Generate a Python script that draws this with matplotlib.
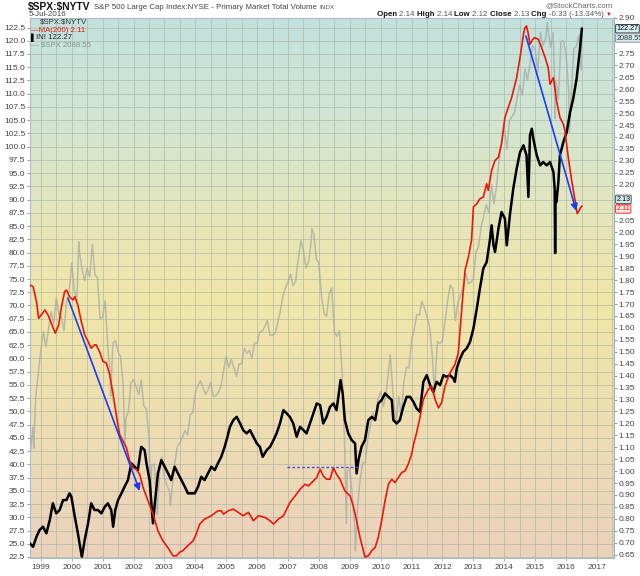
import numpy as np
import matplotlib
matplotlib.use("Agg")
import matplotlib.pyplot as plt
from matplotlib.colors import LinearSegmentedColormap

plt.rcParams['font.family'] = ['Liberation Sans', 'DejaVu Sans']

# ---------------- data ----------------
# MA(200) of $SPX:$NYTV  (right axis)
ma_x = [1998.64, 1998.75, 1998.86, 1998.93, 1999.02, 1999.13, 1999.23, 1999.34, 1999.47, 1999.58,
        1999.66, 1999.77, 1999.83, 1999.93, 2000.04, 2000.10, 2000.20, 2000.31, 2000.42, 2000.53,
        2000.63, 2000.74, 2000.79, 2000.90, 2001.01, 2001.12, 2001.23, 2001.34, 2001.44, 2001.55,
        2001.66, 2001.77, 2001.88, 2001.98, 2002.09, 2002.20, 2002.31, 2002.47, 2002.63, 2002.79,
        2002.95, 2003.11, 2003.28, 2003.39, 2003.49, 2003.60, 2003.76, 2003.93, 2004.03, 2004.14,
        2004.30, 2004.52, 2004.73, 2004.84, 2004.91, 2005.07, 2005.23, 2005.39, 2005.55, 2005.72,
        2005.88, 2006.04, 2006.26, 2006.42, 2006.53, 2006.69, 2006.85, 2006.96, 2007.06, 2007.23,
        2007.39, 2007.55, 2007.66, 2007.82, 2007.93, 2008.04, 2008.14, 2008.25, 2008.36, 2008.47,
        2008.57, 2008.68, 2008.84, 2009.01, 2009.11, 2009.22, 2009.33, 2009.44, 2009.49, 2009.60,
        2009.71, 2009.82, 2009.92, 2010.03, 2010.14, 2010.25, 2010.36, 2010.46, 2010.57, 2010.68,
        2010.79, 2010.89, 2011.00, 2011.06, 2011.16, 2011.27, 2011.38, 2011.54, 2011.65, 2011.76,
        2011.87, 2011.97, 2012.08, 2012.24, 2012.40, 2012.51, 2012.62, 2012.73, 2012.84, 2012.94,
        2013.00, 2013.11, 2013.21, 2013.32, 2013.43, 2013.48, 2013.59, 2013.70, 2013.81, 2013.91,
        2014.02, 2014.13, 2014.24, 2014.40, 2014.51, 2014.62, 2014.67, 2014.72, 2014.78, 2014.83,
        2014.92, 2014.99, 2015.10, 2015.21, 2015.32, 2015.42, 2015.48, 2015.59, 2015.69, 2015.80,
        2015.91, 2015.96, 2016.07, 2016.18, 2016.29, 2016.36, 2016.43, 2016.47, 2016.51]
ma_y = [1.780, 1.773, 1.710, 1.640, 1.655, 1.675, 1.655, 1.620, 1.578, 1.613,
        1.682, 1.752, 1.759, 1.731, 1.717, 1.731, 1.696, 1.627, 1.571, 1.543,
        1.515, 1.529, 1.529, 1.501, 1.460, 1.453, 1.404, 1.321, 1.237, 1.154,
        1.126, 1.098, 1.042, 1.014, 1.008, 0.987, 0.931, 0.875, 0.820, 0.750,
        0.708, 0.680, 0.645, 0.645, 0.660, 0.667, 0.688, 0.708, 0.736, 0.778,
        0.799, 0.813, 0.834, 0.834, 0.820, 0.834, 0.841, 0.827, 0.813, 0.827,
        0.792, 0.813, 0.806, 0.792, 0.778, 0.799, 0.813, 0.841, 0.868, 0.896,
        0.924, 0.945, 0.938, 0.959, 0.973, 1.008, 0.980, 0.966, 0.966, 1.014,
        0.987, 0.966, 0.917, 0.896, 0.855, 0.792, 0.722, 0.667, 0.640, 0.645,
        0.667, 0.680, 0.722, 0.792, 0.875, 0.945, 0.966, 0.952, 0.973, 0.994,
        1.001, 1.029, 1.070, 1.110, 1.160, 1.225, 1.300, 1.342, 1.355, 1.300,
        1.265, 1.286, 1.355, 1.411, 1.446, 1.494, 1.675, 1.842, 1.898, 1.968,
        2.107, 2.120, 2.141, 2.148, 2.204, 2.176, 2.260, 2.302, 2.315, 2.371,
        2.482, 2.524, 2.566, 2.649, 2.733, 2.830, 2.858, 2.865, 2.830, 2.788,
        2.809, 2.816, 2.809, 2.774, 2.733, 2.691, 2.621, 2.649, 2.552, 2.482,
        2.454, 2.427, 2.315, 2.218, 2.135, 2.079, 2.093, 2.104, 2.110]

# "IN!" series (left axis, black)
in_x = [1998.64, 1998.75, 1998.86, 1998.96, 1999.07, 1999.18, 1999.29, 1999.39, 1999.50, 1999.61,
        1999.72, 1999.83, 1999.93, 1999.99, 2000.10, 2000.20, 2000.29, 2000.33, 2000.42, 2000.53,
        2000.63, 2000.74, 2000.85, 2000.96, 2001.07, 2001.17, 2001.28, 2001.34, 2001.41, 2001.50,
        2001.61, 2001.71, 2001.82, 2001.93, 2002.04, 2002.14, 2002.25, 2002.36, 2002.42, 2002.52,
        2002.63, 2002.69, 2002.79, 2002.90, 2003.01, 2003.12, 2003.22, 2003.33, 2003.44, 2003.55,
        2003.66, 2003.76, 2003.87, 2003.98, 2004.09, 2004.19, 2004.30, 2004.41, 2004.52, 2004.63,
        2004.73, 2004.84, 2004.95, 2005.04, 2005.12, 2005.23, 2005.34, 2005.45, 2005.55, 2005.66,
        2005.77, 2005.88, 2005.99, 2006.09, 2006.18, 2006.31, 2006.42, 2006.53, 2006.63, 2006.74,
        2006.85, 2006.96, 2007.06, 2007.17, 2007.28, 2007.39, 2007.50, 2007.60, 2007.71, 2007.82,
        2007.93, 2008.04, 2008.14, 2008.25, 2008.36, 2008.47, 2008.57, 2008.63, 2008.70, 2008.77,
        2008.84, 2008.95, 2009.06, 2009.17, 2009.22, 2009.28, 2009.38, 2009.49, 2009.60, 2009.71,
        2009.82, 2009.92, 2010.03, 2010.14, 2010.25, 2010.36, 2010.41, 2010.52, 2010.62, 2010.73,
        2010.84, 2010.95, 2011.06, 2011.16, 2011.27, 2011.38, 2011.49, 2011.60, 2011.70, 2011.81,
        2011.92, 2012.03, 2012.13, 2012.24, 2012.35, 2012.40, 2012.46, 2012.57, 2012.67, 2012.78,
        2012.89, 2013.00, 2013.11, 2013.21, 2013.32, 2013.43, 2013.54, 2013.59, 2013.65, 2013.70,
        2013.81, 2013.91, 2014.02, 2014.08, 2014.18, 2014.29, 2014.40, 2014.51, 2014.62, 2014.72,
        2014.78, 2014.83, 2014.89, 2014.94, 2015.05, 2015.16, 2015.26, 2015.37, 2015.48, 2015.59,
        2015.63, 2015.645, 2015.66, 2015.69, 2015.75, 2015.80, 2015.91, 2016.02, 2016.13, 2016.23,
        2016.34, 2016.40, 2016.45, 2016.51]
in_y = [25.08, 24.44, 26.33, 27.59, 28.22, 26.97, 29.48, 32.63, 30.74, 31.37,
        33.25, 33.25, 34.52, 33.88, 30.10, 26.97, 23.82, 22.56, 25.71, 28.86,
        32.63, 31.37, 31.37, 30.74, 31.99, 32.63, 31.37, 28.22, 31.37, 33.25,
        34.52, 35.77, 37.03, 40.18, 39.54, 38.92, 43.31, 42.69, 40.18, 37.03,
        28.86, 32.63, 38.29, 40.80, 39.54, 38.29, 37.03, 39.54, 38.29, 37.03,
        35.77, 34.52, 34.52, 34.52, 35.77, 37.65, 37.03, 38.29, 39.54, 38.92,
        40.18, 41.42, 43.31, 45.20, 47.08, 48.35, 48.97, 47.72, 46.46, 45.84,
        46.46, 45.20, 43.95, 43.31, 41.42, 42.69, 43.31, 44.58, 45.84, 47.72,
        50.24, 49.61, 48.97, 47.72, 45.20, 47.08, 46.46, 45.84, 47.72, 49.61,
        51.50, 51.18, 47.72, 48.97, 50.86, 51.50, 50.24, 52.75, 55.90, 53.39,
        48.35, 45.84, 44.58, 43.95, 38.29, 40.80, 43.31, 44.58, 48.35, 48.97,
        48.35, 51.50, 52.12, 53.39, 52.75, 52.12, 48.35, 47.72, 48.35, 50.86,
        52.75, 52.75, 51.80, 50.56, 49.92, 55.58, 56.84, 54.95, 53.69, 55.58,
        54.95, 56.84, 56.52, 56.84, 56.22, 55.58, 58.10, 59.99, 61.24, 61.88,
        63.12, 65.65, 69.42, 73.20, 76.97, 78.22, 82.63, 85.14, 81.37, 80.10,
        84.52, 87.65, 86.41, 81.37, 87.03, 92.07, 95.84, 98.97, 100.24, 98.35,
        90.50, 102.12, 103.39, 101.50, 98.35, 96.46, 97.09, 96.46, 97.09, 95.20,
        92.00, 79.90, 91.50, 89.54, 93.31, 98.35, 100.86, 102.75, 106.52, 109.05,
        112.82, 115.95, 118.48, 122.27]

# $SPX month-end closes from Aug 1998 to Jun 2016 (grey overlay, own hidden scale)
spx_first_month = (1998, 8)
spx_close = [957.28, 1017.01, 1098.67, 1163.63, 1229.23,
             1279.64, 1238.33, 1286.37, 1335.18, 1301.84, 1372.71, 1328.72, 1320.41, 1282.71, 1362.93, 1388.91, 1469.25,
             1394.46, 1366.42, 1498.58, 1452.43, 1420.60, 1454.60, 1430.83, 1517.68, 1436.51, 1429.40, 1314.95, 1320.28,
             1366.01, 1239.94, 1160.33, 1249.46, 1255.82, 1224.42, 1211.23, 1133.58, 1040.94, 1059.78, 1139.45, 1148.08,
             1130.20, 1106.73, 1147.39, 1076.92, 1067.14, 989.82, 911.62, 916.07, 815.28, 885.76, 936.31, 879.82,
             855.70, 841.15, 848.18, 916.92, 963.59, 974.50, 990.31, 1008.01, 995.97, 1050.71, 1058.20, 1111.92,
             1131.13, 1144.94, 1126.21, 1107.30, 1120.68, 1140.84, 1101.72, 1104.24, 1114.58, 1130.20, 1173.82, 1211.92,
             1181.27, 1203.60, 1180.59, 1156.85, 1191.50, 1191.33, 1234.18, 1220.33, 1228.81, 1207.01, 1249.48, 1248.29,
             1280.08, 1280.66, 1294.83, 1310.61, 1270.09, 1270.20, 1276.66, 1303.82, 1335.85, 1377.94, 1400.63, 1418.30,
             1438.24, 1406.82, 1420.86, 1482.37, 1530.62, 1503.35, 1455.27, 1473.99, 1526.75, 1549.38, 1481.14, 1468.36,
             1378.55, 1330.63, 1322.70, 1385.59, 1400.38, 1280.00, 1267.38, 1282.83, 1166.36, 968.75, 896.24, 903.25,
             825.88, 735.09, 797.87, 872.81, 919.14, 919.32, 987.48, 1020.62, 1057.08, 1036.19, 1095.63, 1115.10,
             1073.87, 1104.49, 1169.43, 1186.69, 1089.41, 1030.71, 1101.60, 1049.33, 1141.20, 1183.26, 1180.55, 1257.64,
             1286.12, 1327.22, 1325.83, 1363.61, 1345.20, 1320.64, 1292.28, 1218.89, 1131.42, 1253.30, 1246.96, 1257.60,
             1312.41, 1365.68, 1408.47, 1397.91, 1310.33, 1362.16, 1379.32, 1406.58, 1440.67, 1412.16, 1416.18, 1426.19,
             1498.11, 1514.68, 1569.19, 1597.57, 1630.74, 1606.28, 1685.73, 1632.97, 1681.55, 1756.54, 1805.81, 1848.36,
             1782.59, 1859.45, 1872.34, 1883.95, 1923.57, 1960.23, 1930.67, 2003.37, 1972.29, 2018.05, 2067.56, 2058.90,
             1994.99, 2104.50, 2067.89, 2085.51, 2107.39, 2063.11, 2103.84, 1972.18, 1920.03, 2079.36, 2080.41, 2043.94,
             1940.24, 1932.23, 2059.74, 2065.30, 2096.95, 2098.86]
# notable intra-month closes
spx_extra_x = [1998.635, 1998.77, 2000.23, 2000.67, 2001.26, 2001.72, 2002.56, 2002.77, 2003.19,
               2007.77, 2008.89, 2009.18, 2010.31, 2010.50, 2011.75, 2015.39, 2015.65, 2016.11,
               2016.49, 2016.51]
spx_extra_y = [1084.2, 959.44, 1527.46, 1520.77, 1103.25, 965.80, 797.70, 776.76, 800.73,
               1565.15, 752.44, 676.53, 1217.28, 1022.58, 1099.23, 2130.82, 1867.61, 1829.08,
               2000.54, 2088.55]

years = list(range(1999, 2018))
year_labels = [str(y) for y in years]

last_in = 122.27
last_spx = 2088.55
last_ratio = 2.13
last_ma = 2.11

# blue annotations (year, ratio value)
arrow1 = ((1999.88, 1.724), (2002.20, 0.917))
arrow2 = ((2014.70, 2.823), (2016.33, 2.090))
hline = ((2006.96, 2009.33), 1.019)

# ---------------- figure ----------------
W, H = 640, 576
fig = plt.figure(figsize=(W / 100, H / 100), dpi=100)
fig.patch.set_facecolor('white')
L, R, T, B = 29.5, 614.3, 17.5, 558
ax = fig.add_axes([L / W, 1 - B / H, (R - L) / W, (B - T) / H])

XLIM = (1998.634, 2017.56)
LEFT_LIM = (22.31, 124.39)
RIGHT_LIM = (0.636, 2.9005)
SPX_LIM = (657.3, 2145.0)

ax.set_xlim(*XLIM)
ax.set_ylim(*LEFT_LIM)

# gradient background
cmap = LinearSegmentedColormap.from_list('bg', [
    (0.0, '#c3e1de'), (0.17, '#d0e5d4'), (0.34, '#e3e5bf'), (0.52, '#f0e6a8'),
    (0.72, '#eedfb0'), (0.88, '#ecd7b8'), (1.0, '#ebd2bc')])
grad = np.linspace(0, 1, 256).reshape(-1, 1)
ax.imshow(grad, cmap=cmap, aspect='auto', extent=(0, 1, 0, 1),
          transform=ax.transAxes, zorder=0, interpolation='bilinear')

# grid / ticks (left scale)
gcol = '#a7b3a0'
lt = np.arange(22.5, 124.0, 2.5)
ax.set_yticks(lt)
ax.set_yticklabels(['%.1f' % v for v in lt])
ax.set_xticks(years)
ax.set_xticklabels(year_labels)
ax.set_xticks([y + 0.5 for y in range(1998, 2018)], minor=True)
ax.grid(True, which='major', axis='both', color=gcol, lw=0.6, alpha=0.7, zorder=1)
ax.grid(True, which='minor', axis='x', color=gcol, lw=0.6, alpha=0.7, zorder=1)
ax.tick_params(axis='y', which='both', labelsize=6.0, labelcolor='#444444', length=2,
               width=0.5, color='#777777', pad=1)
ax.tick_params(axis='x', which='major', labelsize=6.0, labelcolor='#444444', length=2,
               width=0.5, color='#999999', pad=2.5)
ax.tick_params(axis='x', which='minor', length=0)
for s in ['left', 'top', 'bottom']:
    ax.spines[s].set_color('#a9bccb')
    ax.spines[s].set_linewidth(0.8)
ax.spines['right'].set_visible(False)

# $SPX overlay (grey)
spx_x = [spx_first_month[0] + (spx_first_month[1] + i) / 12.0 for i in range(len(spx_close))]
allx = np.array(spx_x + spx_extra_x)
ally = np.array(spx_close + spx_extra_y)
order = np.argsort(allx)
axg = ax.twinx()
axg.set_ylim(*SPX_LIM)
axg.set_xlim(*XLIM)
axg.plot(allx[order], ally[order], color='#a3a8a5', lw=1.1, alpha=0.7)
axg.axis('off')

# IN! series (black) on left scale
axb = ax.twinx()
axb.set_ylim(*LEFT_LIM)
axb.set_xlim(*XLIM)
axb.plot(in_x, in_y, color='black', lw=1.8, solid_joinstyle='round')
axb.axis('off')

# MA(200) (red) on right scale
axr = ax.twinx()
axr.set_ylim(*RIGHT_LIM)
axr.set_xlim(*XLIM)
axr.plot(ma_x, ma_y, color='#e8180c', lw=1.2)
rt = np.arange(0.65, 2.9001, 0.05)
hidden = ('2.85', '2.80', '2.15', '2.10')   # covered by the value tags in the original
axr.set_yticks(rt)
axr.set_yticklabels(['' if ('%.2f' % v) in hidden else '%.2f' % v for v in rt])
axr.tick_params(axis='y', labelsize=6.0, labelcolor='#444444', length=2, width=0.5,
                color='#777777', pad=1)
for s in ['left', 'top', 'bottom']:
    axr.spines[s].set_visible(False)
axr.spines['right'].set_color('#8fb3d0')
axr.spines['right'].set_linestyle((0, (1, 1)))
axr.spines['right'].set_linewidth(0.8)

# annotations
blue = '#1c3cf2'
for (p0, p1) in (arrow1, arrow2):
    axr.annotate('', xy=p1, xytext=p0,
                 arrowprops=dict(arrowstyle='-|>', color=blue, lw=1.2, mutation_scale=10,
                                 shrinkA=0, shrinkB=0))
axr.plot(hline[0], [hline[1], hline[1]], color='#4b4bf0', lw=1.0, ls=(0, (2, 1.5)))

# value tags on the right (drawn on the top axes so they cover tick labels)
def tag(src_axis, val, text, fc, ec, tc, dy=0):
    axr.annotate(text, xy=(1.0, val), xycoords=(axr.transAxes, src_axis.transData),
                 xytext=(1.5, dy), textcoords='offset points', fontsize=5.2, color=tc,
                 va='center', ha='left', annotation_clip=False, zorder=10,
                 bbox=dict(boxstyle='round,pad=0.1', fc=fc, ec=ec, lw=0.6))

tag(axb, last_in, '%.2f' % last_in, '#d6ecf3', '#222222', 'black')
tag(axg, last_spx, '%.2f' % last_spx, '#d6ecf3', '#888888', '#333333')
tag(axr, last_ratio, '%.2f' % last_ratio, '#d6ecf3', '#444444', 'black', dy=1.5)
tag(axr, last_ma, '%.2f' % last_ma, '#fbe3e0', '#e8180c', '#e8180c', dy=-2)

# header texts
def ftext(x, y, s, **kw):
    return fig.text(x / W, 1 - y / H, s, va='center', **kw)

renderer = fig.canvas.get_renderer()

t1 = ftext(28, 7, '\\$SPX:\\$NYTV', fontsize=7.4, fontweight='bold', color='#111111')
x1 = 28 + t1.get_window_extent(renderer=renderer).width + 3
t2 = ftext(x1, 7.5, 'S&P 500 Large Cap Index:NYSE - Primary Market Total Volume',
           fontsize=5.7, color='#444444')
x2 = x1 + t2.get_window_extent(renderer=renderer).width + 3
ftext(x2, 7.5, 'INDX', fontsize=4.6, color='#555555')
ftext(29, 14.5, '5-Jul-2016', fontsize=5.8, color='#444444')
ftext(613, 5.5, '@StockCharts.com', fontsize=5.6, color='#666666', ha='right')

hdr = [('Open ', True), ('2.14 ', False), ('High ', True), ('2.14 ', False), ('Low ', True),
       ('2.12 ', False), ('Close ', True), ('2.13 ', False), ('Chg ', True), ('-0.33 (-13.34%) ', False)]
parts = []
for s, b in hdr:
    t = ftext(0, 14.5, s, fontsize=5.7, fontweight='bold' if b else 'normal',
              color='#111111' if b else '#555555')
    parts.append(t)
tri = ftext(0, 14.5, '\u25BC', fontsize=4.2, color='#cc2222')
parts.append(tri)
widths = [p.get_window_extent(renderer=renderer).width for p in parts]
xs = 612 - sum(widths)
for p, w in zip(parts, widths):
    p.set_x(xs / W)
    xs += w

# legend inside the plot
ftext(40, 22.5, '\\$SPX:\\$NYTV', fontsize=5.6, color='#333333')
ftext(31, 30, '\u2014MA(200) 2.11', fontsize=5.6, color='#e8180c')
ftext(31, 37.5, '\u258C', fontsize=5.2, color='black')
ftext(36, 37.5, 'IN! 122.27', fontsize=5.6, color='#222222')
ftext(31, 45, '\u2014 \\$SPX 2088.55', fontsize=5.6, color='#8a9490')

fig.savefig('out.png', dpi=100)
